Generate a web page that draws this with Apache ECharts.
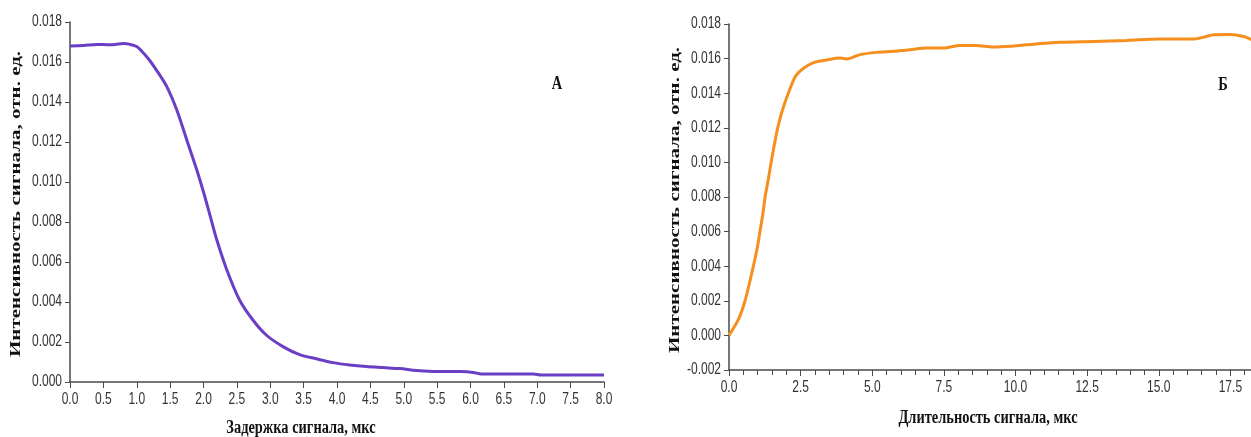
<!DOCTYPE html>
<html>
<head>
<meta charset="utf-8">
<script src="https://cdn.jsdelivr.net/npm/echarts@6/dist/echarts.min.js"></script>
<style>
  html, body { margin: 0; padding: 0; background: #fff; }
  #chart { width: 1251px; height: 437px; }
</style>
</head>
<body>
<div id="chart"></div>
<script>
// Panel А: signal intensity vs. signal delay (µs)
const delayUs = [0.0, 0.2, 0.4, 0.6, 0.8, 0.9, 1.0, 1.1, 1.2, 1.3, 1.45, 1.6, 1.75, 1.9, 2.0, 2.1, 2.2, 2.35, 2.54, 2.74, 2.94, 3.19, 3.44, 3.69, 3.94, 4.19, 4.44, 4.69, 4.94, 5.19, 5.44, 5.84, 6.04, 6.16, 6.5, 6.94, 7.06, 7.5, 8.0];
const delayIntensity = [0.01680, 0.01682, 0.01688, 0.01686, 0.01692, 0.01688, 0.01677, 0.01645, 0.01605, 0.01557, 0.01477, 0.01360, 0.01210, 0.01060, 0.00950, 0.00830, 0.00710, 0.00560, 0.00410, 0.00310, 0.00235, 0.00177, 0.00137, 0.00116, 0.00097, 0.00085, 0.00077, 0.00072, 0.00067, 0.00057, 0.00053, 0.00052, 0.00048, 0.00040, 0.00040, 0.00040, 0.00035, 0.00035, 0.00035];

// Panel Б: signal intensity vs. signal duration (µs)
const durationUs = [0, 0.35, 0.56, 0.71, 0.85, 0.98, 1.08, 1.18, 1.26, 1.37, 1.47, 1.58, 1.70, 1.86, 2.07, 2.33, 2.65, 3.0, 3.35, 3.88, 4.11, 4.57, 5.15, 5.74, 6.32, 6.9, 7.48, 8.07, 8.6, 9.23, 9.81, 10.39, 11.56, 12.72, 13.89, 15.05, 16.21, 16.6, 16.91, 17.49, 17.96, 18.3];
const durationIntensity = [0, 0.001, 0.002, 0.003, 0.004, 0.005, 0.006, 0.007, 0.008, 0.009, 0.010, 0.011, 0.012, 0.013, 0.014, 0.015, 0.0155, 0.0158, 0.0159, 0.01603, 0.01598, 0.01623, 0.01636, 0.01642, 0.01651, 0.01661, 0.01661, 0.01676, 0.01676, 0.01667, 0.01671, 0.0168, 0.01694, 0.01699, 0.01705, 0.01713, 0.01713, 0.01725, 0.01738, 0.0174, 0.01728, 0.01705];

// Tick labels
const yTickLabelsA = ['0.000', '0.002', '0.004', '0.006', '0.008', '0.010', '0.012', '0.014', '0.016', '0.018'];
const xTickLabelsA = ['0.0', '0.5', '1.0', '1.5', '2.0', '2.5', '3.0', '3.5', '4.0', '4.5', '5.0', '5.5', '6.0', '6.5', '7.0', '7.5', '8.0'];
const yTickLabelsB = ['-0.002', '0.000', '0.002', '0.004', '0.006', '0.008', '0.010', '0.012', '0.014', '0.016', '0.018'];
const xTickLabelsB = ['0.0', '2.5', '5.0', '7.5', '10.0', '12.5', '15.0', '17.5', '20.0'];

// Axis titles and panel letters
const yTitle = 'Интенсивность сигнала, отн. ед.';
const xTitleA = 'Задержка сигнала, мкс';
const xTitleB = 'Длительность сигнала, мкс';
const panelA = 'А';
const panelB = 'Б';

const tickFont = '16px "Liberation Sans", Arial, sans-serif';
const titleFont = 'bold 18px "Liberation Serif", "Times New Roman", serif';
const yTitleFont = 'bold 21px "Liberation Serif", "Times New Roman", serif';
const axisColor = '#4a4a4a';
const labelColor = '#333';
const narrow = 0.75;

function axisBase(min, max, interval, tickLen) {
  return {
    type: 'value', min: min, max: max, interval: interval,
    axisLine: { show: true, onZero: false, lineStyle: { color: axisColor, width: 1.5 } },
    axisTick: { show: true, length: tickLen, lineStyle: { color: axisColor } },
    axisLabel: { show: false },
    splitLine: { show: false }
  };
}

const xA = Object.assign(axisBase(0, 8, 0.5, 6), { gridIndex: 0 });
const xB = Object.assign(axisBase(0, 20, 2.5, 6), { gridIndex: 1 });
xB.minorTick = { show: true, splitNumber: 5, length: 5, lineStyle: { color: axisColor } };
const yA = Object.assign(axisBase(0, 0.018, 0.002, 5), { gridIndex: 0 });
const yB = Object.assign(axisBase(-0.002, 0.018, 0.002, 5), { gridIndex: 1 });

function titleText(text, x, y, rotated, font, squeeze) {
  return {
    type: 'text', x: x, y: y,
    rotation: rotated ? Math.PI / 2 : 0,
    scaleX: rotated ? 1 : squeeze,
    scaleY: rotated ? squeeze : 1,
    style: { text: text, font: font, fill: '#111', align: 'center', verticalAlign: 'middle' }
  };
}

const chart = echarts.init(document.getElementById('chart'), null, { renderer: 'canvas' });
chart.setOption({
  animation: false,
  backgroundColor: '#fff',
  grid: [
    { left: 70, top: 22, width: 534, height: 360, outerBoundsMode: 'none', containLabel: false },
    { left: 729, top: 24, width: 573, height: 346, outerBoundsMode: 'none', containLabel: false }
  ],
  xAxis: [xA, xB],
  yAxis: [yA, yB],
  series: [
    {
      type: 'line', xAxisIndex: 0, yAxisIndex: 0,
      data: delayUs.map((x, i) => [x, delayIntensity[i]]),
      showSymbol: false, smooth: 0.3,
      lineStyle: { color: '#6a3fc6', width: 3 }
    },
    {
      type: 'line', xAxisIndex: 1, yAxisIndex: 1,
      data: durationUs.map((x, i) => [x, durationIntensity[i]]),
      showSymbol: false, smooth: 0.3,
      lineStyle: { color: '#f58f1e', width: 3 }
    }
  ]
});

// Tick labels placed at positions given by the axes' own scales,
// drawn in a condensed face.
function tickLabelElements(xIdx, yIdx, xLabels, yLabels, xMin, yMin) {
  const els = [];
  const origin = chart.convertToPixel({ xAxisIndex: xIdx, yAxisIndex: yIdx }, [xMin, yMin]);
  xLabels.forEach(t => {
    const px = chart.convertToPixel({ xAxisIndex: xIdx }, Number(t));
    els.push({
      type: 'text', x: px, y: origin[1] + 18, scaleX: narrow,
      style: { text: t, font: tickFont, fill: labelColor, align: 'center', verticalAlign: 'middle' }
    });
  });
  yLabels.forEach(t => {
    const py = chart.convertToPixel({ yAxisIndex: yIdx }, Number(t));
    els.push({
      type: 'text', x: origin[0] - 8, y: py, scaleX: narrow,
      style: { text: t, font: tickFont, fill: labelColor, align: 'right', verticalAlign: 'middle' }
    });
  });
  return els;
}

chart.setOption({
  graphic: [
    ...tickLabelElements(0, 0, xTickLabelsA, yTickLabelsA, 0, 0),
    ...tickLabelElements(1, 1, xTickLabelsB, yTickLabelsB, 0, -0.002),
    titleText(yTitle, 16, 204, true, yTitleFont, 0.72),
    titleText(yTitle, 675, 200, true, yTitleFont, 0.72),
    titleText(xTitleA, 301, 428, false, titleFont, 0.8),
    titleText(xTitleB, 988, 418, false, titleFont, 0.8),
    titleText(panelA, 557, 84, false, titleFont, 0.8),
    titleText(panelB, 1223, 85, false, titleFont, 0.8)
  ]
});
</script>
</body>
</html>
